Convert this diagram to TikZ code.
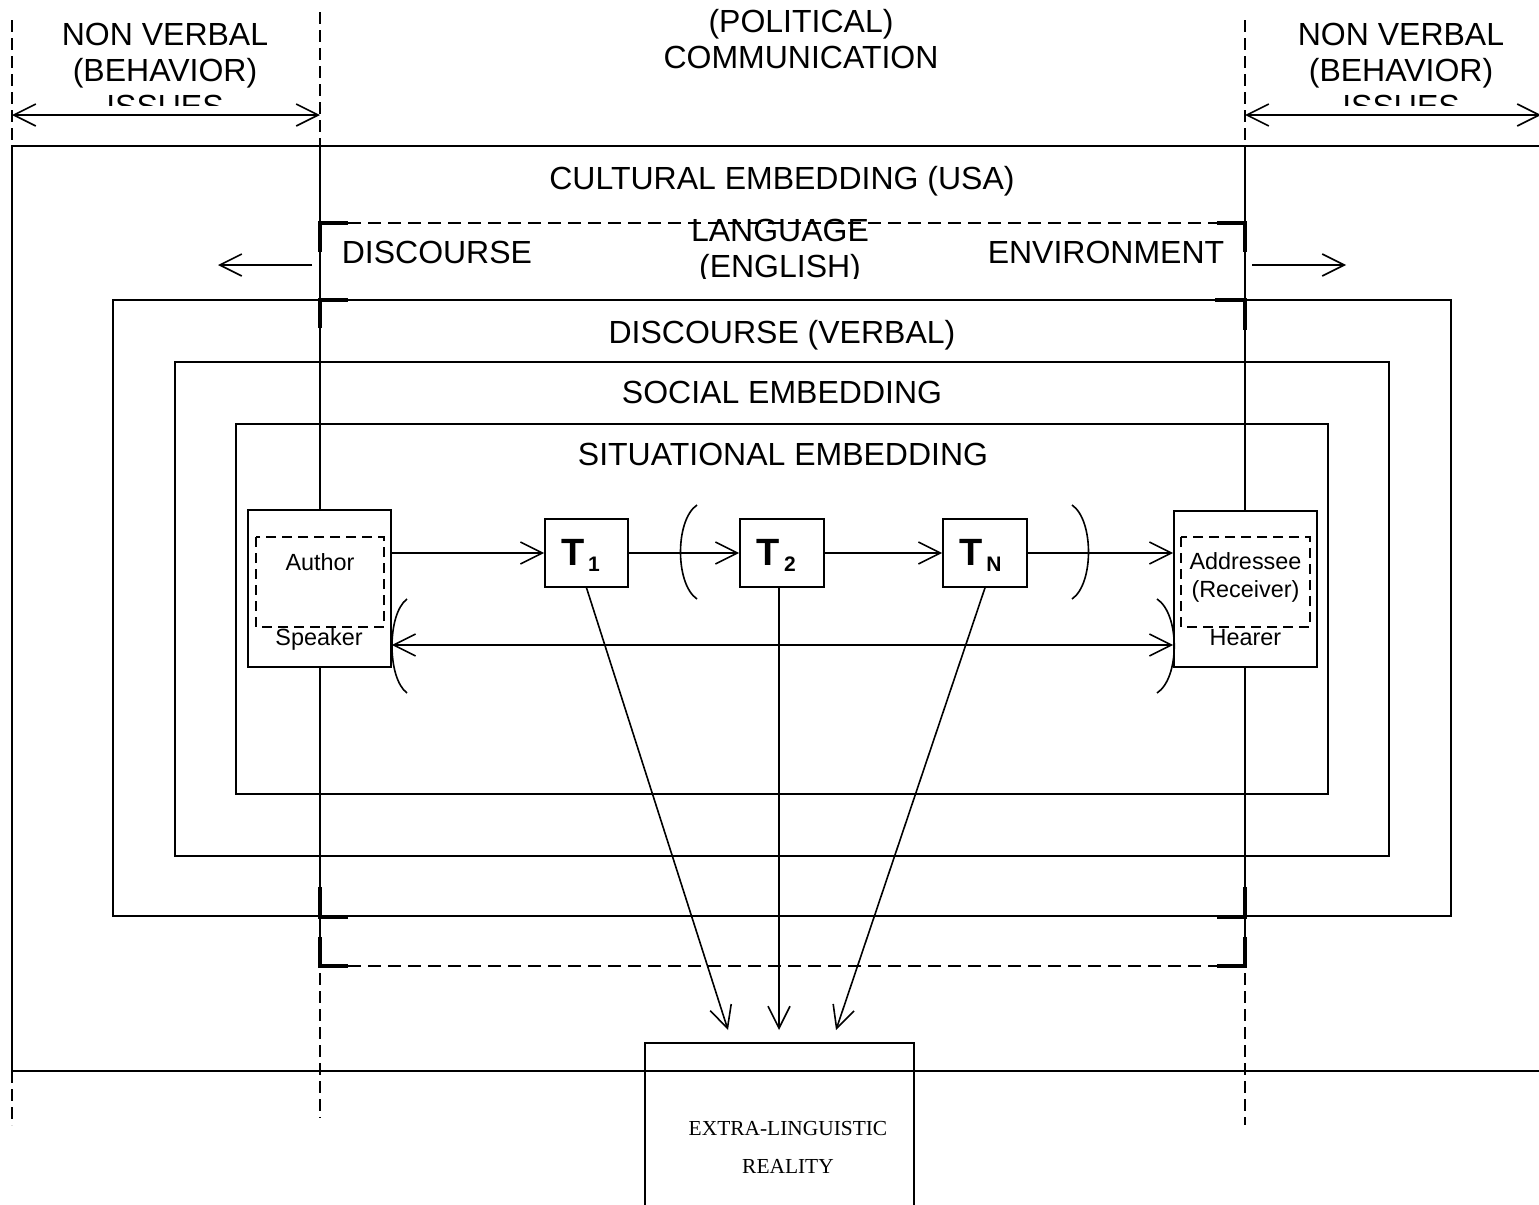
\documentclass[tikz,border=0pt]{standalone}
\usepackage{fontspec}
\setmainfont{Liberation Sans}
\newfontfamily\timesf{Liberation Serif}
\usetikzlibrary{arrows.meta}
\begin{document}
\begin{tikzpicture}[x=0.5pt,y=-0.5pt,
  line width=0.8pt,
  >={Straight Barb[length=11pt,width=11pt]},
  lbl/.style={anchor=base,inner sep=0pt,font=\fontsize{16}{18}\selectfont},
  sm/.style={anchor=base,inner sep=0pt,font=\fontsize{11.7}{14}\selectfont},
  bx/.style={draw,fill=white,inner sep=0pt},
  vdash/.style={dash pattern=on 6pt off 3pt},
  bdash/.style={dash pattern=on 6.5pt off 3.5pt},
  idash/.style={dash pattern=on 5pt off 3pt},
  thickbr/.style={line width=2pt},
  tfont/.style={font=\fontsize{19}{21}\selectfont\bfseries},
  subf/.style={font=\fontsize{10.5}{12}\selectfont\bfseries}
]
\useasboundingbox (0,0) rectangle (1539,1205);

% vertical division lines
\draw[vdash] (12,20) -- (12,146);
\draw[vdash] (12,1071) -- (12,1125);
\draw[vdash] (320,12) -- (320,146);
\draw (320,146) -- (320,937);
\draw[vdash] (320,937) -- (320,1118);
\draw[vdash] (1245,20) -- (1245,146);
\draw (1245,146) -- (1245,937);
\draw[vdash] (1245,937) -- (1245,1125);

% top column labels
\begin{scope}
  \clip (0,0) rectangle (1539,105);
  \node[lbl] (nvl1) at (165,45) {NON VERBAL};
  \node[lbl] (nvl2) at (165,81) {(BEHAVIOR)};
  \node[lbl] (nvl3) at (165,117) {ISSUES};
  \node[lbl] (nvr1) at (1401,45) {NON VERBAL};
  \node[lbl] (nvr2) at (1401,81) {(BEHAVIOR)};
  \node[lbl] (nvr3) at (1401,117) {ISSUES};
\end{scope}
\node[lbl] (pol1) at (801,32) {(POLITICAL)};
\node[lbl] (pol2) at (801,68) {COMMUNICATION};

% top double arrows
\coordinate (aL1) at (12,115);
\coordinate (aL2) at (320,115);
\coordinate (aR1) at (1245,115);
\coordinate (aR2) at (1541,115);
\draw[<->] (aL1) -- (aL2);
\draw[<->] (aR1) -- (aR2);

% cultural embedding frame
\draw (1550,146) -- (12,146) -- (12,1071) -- (1550,1071);
\node[lbl] (cult) at (782,189) {CULTURAL EMBEDDING (USA)};

% language / discourse environment
\draw[bdash] (348,223) -- (1217,223);
\draw[bdash] (348,966) -- (1217,966);
\draw[thickbr] (320,252) -- (320,223) -- (348,223);
\draw[thickbr] (320,328) -- (320,300) -- (348,300);
\draw[thickbr] (1217,223) -- (1245,223) -- (1245,252);
\draw[thickbr] (1215,300) -- (1245,300) -- (1245,330);
\draw[thickbr] (320,887) -- (320,917) -- (348,917);
\draw[thickbr] (320,937) -- (320,966) -- (348,966);
\draw[thickbr] (1217,917) -- (1245,917) -- (1245,887);
\draw[thickbr] (1217,966) -- (1245,966) -- (1245,937);

\node[lbl,anchor=base west] (disc) at (341,263) {DISCOURSE};
\node[lbl,anchor=base east] (env) at (1225,263) {ENVIRONMENT};
\begin{scope}
  \clip (600,150) rectangle (960,278);
  \node[lbl] (lang1) at (780,241) {LANGUAGE};
  \node[lbl] (lang2) at (780,277) {(ENGLISH)};
\end{scope}
\coordinate (sL1) at (312,265);
\coordinate (sL2) at (218,265);
\coordinate (sR1) at (1252,265);
\coordinate (sR2) at (1346,265);
\draw[->] (sL1) -- (sL2);
\draw[->] (sR1) -- (sR2);

% nested embedding boxes
\draw (113,300) rectangle (1451,916);
\node[lbl] (verb) at (782,343) {DISCOURSE (VERBAL)};
\draw (175,362) rectangle (1389,856);
\node[lbl] (soc) at (782,403) {SOCIAL EMBEDDING};
\draw (236,424) rectangle (1328,794);
\node[lbl] (sit) at (783,465) {SITUATIONAL EMBEDDING};

% speaker / hearer boxes
\node[bx, minimum width=71.5pt, minimum height=78.5pt] (author) at (319.5,588.5) {};
\draw[idash] (256,537) rectangle (384,627);
\node[sm] (authtxt) at (320,570) {Author};
\node[sm] (spktxt) at (319,645) {Speaker};

\node[bx, minimum width=71.5pt, minimum height=78pt] (addr) at (1245.5,589) {};
\draw[idash] (1181,537) rectangle (1310,627);
\node[sm] (addrtxt) at (1245.5,569) {Addressee};
\node[sm] (rectxt) at (1245.5,597) {(Receiver)};
\node[sm] (heartxt) at (1245.5,645) {Hearer};

% text nodes T
\node[bx, minimum width=41.5pt, minimum height=34pt] (t1) at (586.5,553) {};
\node[bx, minimum width=42pt, minimum height=34pt] (t2) at (782,553) {};
\node[bx, minimum width=42pt, minimum height=34pt] (tn) at (985,553) {};
\node[tfont,anchor=base,inner sep=0pt] (t1t) at (573,565) {T};
\node[subf,anchor=base,inner sep=0pt] (t1s) at (594,571) {1};
\node[tfont,anchor=base,inner sep=0pt] (t2t) at (768,565) {T};
\node[subf,anchor=base,inner sep=0pt] (t2s) at (790,571) {2};
\node[tfont,anchor=base,inner sep=0pt] (tnt) at (971,565) {T};
\node[subf,anchor=base,inner sep=0pt] (tns) at (994,571) {N};

\draw[->] (author.east |- t1.west) -- (t1.west);
\draw[->] (t1.east) -- (t2.west);
\draw[->] (t2.east) -- (tn.west);
\draw[->] (tn.east) -- (tn.east -| addr.west);
\coordinate (lowrow) at (0,645);
\draw[<->] (author.east |- lowrow) -- (addr.west |- lowrow);

% parentheses
\draw (697,505) .. controls (675,520) and (675,584) .. (697,599);
\draw (1072,505) .. controls (1094,520) and (1094,584) .. (1072,599);
\draw (407,599) .. controls (387,614) and (387,678) .. (407,693);
\draw (1157,599) .. controls (1180,614) and (1180,678) .. (1157,693);

% extra-linguistic reality
\node[draw, minimum width=134.5pt, minimum height=90pt, inner sep=0pt] (real) at (779.5,1133) {};
\node[anchor=base,inner sep=0pt,font=\timesf\fontsize{10.7}{13}\selectfont] (rt1) at (788,1135) {EXTRA-LINGUISTIC};
\node[anchor=base,inner sep=0pt,font=\timesf\fontsize{10.7}{13}\selectfont] (rt2) at (788,1173) {REALITY};

\coordinate (r1) at (728,1030);
\coordinate (r2) at (779,1030);
\coordinate (r3) at (836,1030);
\draw[->] (t1.south) -- (r1);
\draw[->] (t2.south -| r2) -- (r2);
\draw[->] (tn.south) -- (r3);
\end{tikzpicture}
\end{document}
